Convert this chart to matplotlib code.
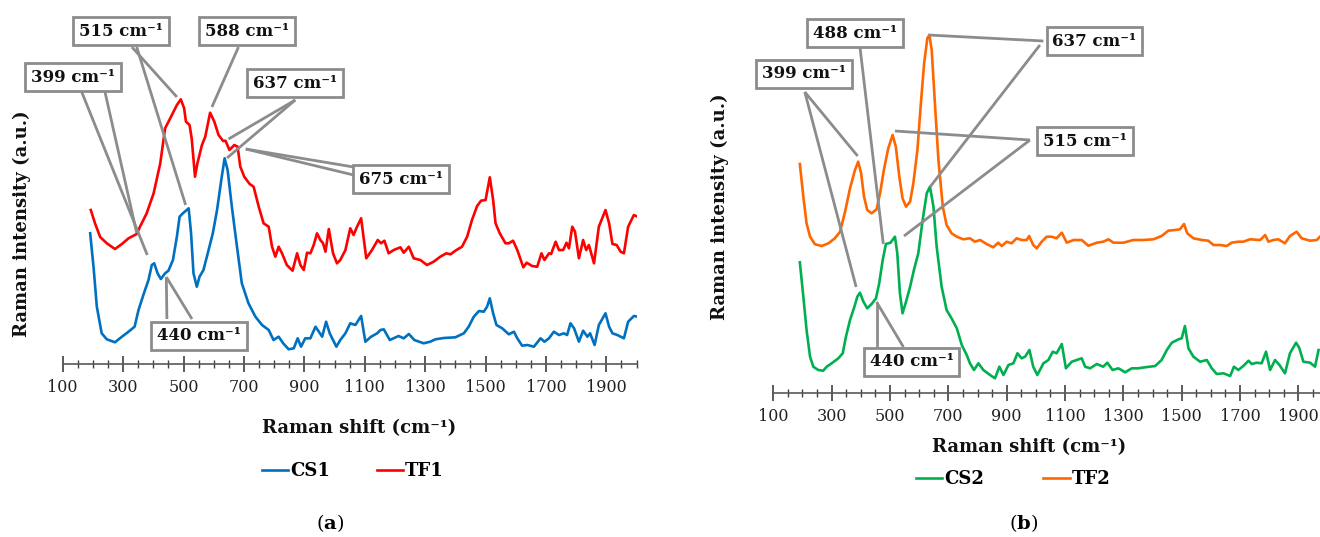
import numpy as np
import matplotlib
matplotlib.use('Agg')
from matplotlib import pyplot as plt

plt.rcParams['font.family'] = ['DejaVu Serif', 'DejaVu Sans']
plt.rcParams['mathtext.fontset'] = 'dejavuserif'

# ---- data (arbitrary intensity units) ----
# panel (a)
cs1_x = [191, 202, 213, 229, 246, 273, 296, 318, 338, 351, 367, 384, 395, 403, 414, 425, 439, 450,
         465, 478, 487, 498, 517, 525, 533, 544, 553, 566, 583, 597, 611, 625, 636, 646, 660, 677,
         693, 715, 738, 760, 782, 798, 815, 830, 848, 865, 878, 889, 903, 920, 937, 948, 959, 972,
         984, 1006, 1019, 1036, 1052, 1069, 1088, 1102, 1121, 1141, 1152, 1163, 1183, 1212, 1229,
         1246, 1264, 1295, 1317, 1334, 1362, 1400, 1428, 1444, 1461, 1478, 1494, 1505, 1514, 1525,
         1536, 1555, 1577, 1594, 1605, 1621, 1638, 1660, 1682, 1695, 1710, 1726, 1743, 1759, 1770,
         1781, 1793, 1809, 1823, 1837, 1846, 1861, 1875, 1897, 1909, 1920, 1936, 1958, 1972, 1991, 2003]
cs1_y = [130.7, 97.3, 57.3, 30.7, 24.7, 21.7, 27.3, 32.3, 37.3, 54, 69, 84, 99, 100.7, 90.7, 85, 90.7,
         93.3, 104, 127.3, 147.3, 150.7, 155.7, 130.7, 90.7, 77.3, 87.3, 94, 114, 130.7, 154, 184,
         205.7, 194, 157.3, 117.3, 80.7, 60.7, 47.3, 39, 34, 24, 27.3, 20.7, 14.7, 15.7, 25.7, 17.3,
         25.7, 25.7, 37.3, 32.3, 27.3, 42.3, 30.7, 17.3, 24, 30.7, 40.7, 39, 48, 22.3, 27.3, 30.7, 34,
         34.7, 24, 28, 25.7, 30, 24, 20.7, 22.3, 24.7, 26, 26.7, 30.7, 37.3, 47.3, 53, 52.3, 57.3,
         65.7, 50.7, 39, 35.7, 29.7, 32.3, 25.7, 18.3, 19, 17.3, 25.7, 22.3, 25.7, 32.3, 29, 30.7, 29,
         40.7, 35.7, 22.3, 33.3, 27.3, 30.7, 19, 39, 50.7, 37.3, 30.7, 29, 25.7, 42.3, 48, 47.3]

tf1_x = [193, 207, 224, 246, 273, 296, 318, 345, 356, 378, 401, 423, 439, 456, 478, 491, 502, 508,
         520, 527, 538, 546, 561, 572, 588, 602, 616, 631, 639, 652, 668, 679, 688, 701, 719, 732,
         749, 765, 782, 793, 804, 815, 826, 842, 861, 876, 887, 898, 909, 920, 931, 942, 953, 962,
         970, 981, 995, 1008, 1019, 1036, 1052, 1063, 1074, 1088, 1105, 1124, 1143, 1154, 1165, 1179,
         1196, 1218, 1229, 1246, 1262, 1284, 1306, 1328, 1350, 1370, 1384, 1400, 1422, 1439, 1455,
         1472, 1485, 1500, 1514, 1525, 1533, 1547, 1566, 1577, 1591, 1605, 1625, 1636, 1654, 1671,
         1685, 1695, 1710, 1717, 1732, 1743, 1757, 1768, 1776, 1787, 1796, 1809, 1823, 1833, 1842,
         1859, 1875, 1897, 1909, 1920, 1934, 1947, 1958, 1972, 1991, 2003]
tf1_y = [154, 140.7, 127, 120.7, 115, 120, 125.7, 130, 137.3, 150.7, 170.7, 200.7, 235.7, 245.7, 259,
         264.7, 255.7, 242.3, 239, 225.7, 187.3, 200.7, 219, 227.3, 251.3, 242.3, 229, 223, 223.3, 214,
         219, 217.3, 197.3, 187.3, 180, 177.3, 157.3, 140.7, 137.3, 117.3, 107.3, 117.3, 110.7, 99,
         93.3, 110.7, 99, 94, 111.3, 110.7, 119, 130.7, 124, 120.7, 112.3, 135, 110.7, 100.7, 104,
         114, 135.7, 129, 137, 145.7, 105.7, 114, 124, 120.7, 123.3, 110.7, 114, 116.7, 111.3, 117.3,
         105.7, 104, 99, 102.3, 107.3, 110.7, 109.7, 113.3, 117.3, 127.3, 144, 158, 163.3, 164, 186.7,
         164, 140.7, 130.7, 120.7, 120.7, 123.3, 114, 96.7, 101.3, 98, 97.3, 110.7, 104, 110.7, 110,
         122.3, 114, 114, 121.3, 115.7, 137.3, 132.3, 105.7, 124, 114, 119, 100.7, 137.3, 154, 140.7,
         120, 119, 112.3, 110.7, 137.3, 149, 147.3]

# panel (b)
cs2_x = [191, 203, 214, 226, 237, 254, 271, 283, 300, 323, 338, 349, 363, 378, 388, 397, 409, 422,
         437, 452, 463, 475, 486, 502, 517, 525, 534, 543, 555, 569, 582, 597, 612, 626, 637, 649,
         660, 677, 694, 711, 729, 746, 763, 774, 788, 803, 820, 843, 860, 875, 889, 906, 923, 937,
         951, 963, 978, 991, 1005, 1026, 1043, 1058, 1071, 1089, 1103, 1123, 1140, 1157, 1169, 1186,
         1209, 1231, 1245, 1263, 1283, 1306, 1329, 1351, 1374, 1409, 1431, 1449, 1466, 1489, 1500,
         1511, 1523, 1540, 1563, 1586, 1603, 1620, 1643, 1666, 1679, 1694, 1711, 1729, 1740, 1757,
         1774, 1789, 1803, 1820, 1835, 1854, 1871, 1892, 1903, 1917, 1940, 1957, 1969]
cs2_y = [130.7, 96.3, 63, 36.3, 26.3, 23, 22.3, 26.3, 29.7, 34.7, 39.7, 56.3, 73, 86.3, 96.3, 100.3,
         91.3, 84.7, 89, 94.7, 109.7, 133, 149, 150.3, 156.3, 139.7, 99.7, 79.7, 91.3, 106.3, 123,
         139.7, 173, 199.7, 206.3, 186.3, 146.3, 106.3, 83, 74.7, 64.7, 48, 38, 29.7, 23, 29.7, 23,
         18, 14.7, 26.3, 18, 28, 29.7, 39.7, 34.7, 36.3, 43, 26.3, 18, 29.7, 33, 41.3, 39.7, 49, 24.7,
         31.3, 33, 34.7, 26.3, 24.7, 29, 26.3, 30.3, 23, 24.7, 20.7, 24.7, 24.7, 25.7, 27, 33, 43,
         50.3, 53.7, 54.7, 67, 44.7, 36.3, 31.3, 33, 24.7, 19, 19.7, 17, 26.3, 23, 27, 32.3, 29, 30.3,
         29.7, 41.3, 23, 33, 28, 19.7, 39.7, 50.3, 45, 31.3, 30.3, 26.3, 43]

tf2_x = [191, 203, 214, 226, 243, 266, 289, 311, 329, 346, 363, 380, 391, 401, 411, 422, 437, 454,
         466, 479, 494, 509, 520, 532, 543, 555, 569, 580, 594, 605, 617, 628, 635, 643, 654, 666,
         681, 694, 711, 729, 751, 774, 791, 809, 831, 854, 871, 883, 900, 917, 934, 951, 969, 977,
         991, 1003, 1020, 1037, 1054, 1071, 1089, 1106, 1129, 1157, 1180, 1209, 1231, 1249, 1266,
         1300, 1334, 1369, 1403, 1431, 1454, 1477, 1494, 1508, 1519, 1540, 1569, 1591, 1609, 1631,
         1654, 1671, 1694, 1711, 1734, 1769, 1786, 1797, 1814, 1831, 1854, 1871, 1894, 1911, 1940,
         1963, 1974]
tf2_y = [229, 196.3, 169.7, 156.3, 148.7, 147, 149.7, 154.7, 161.3, 181.3, 204.7, 223, 231.3, 219.7,
         196.3, 183, 179.7, 183.7, 199.7, 223, 244.7, 258, 246.3, 216.3, 194.7, 186.3, 191.3, 209.7,
         243, 286.3, 329.7, 354.7, 358, 343, 289.7, 233, 186.3, 168, 159.7, 156.3, 153.7, 154.7,
         151.3, 153, 149, 145.7, 150.3, 147, 151.3, 149.7, 154.7, 153, 153, 157, 148, 144.7, 151.3,
         156.3, 156.3, 154.7, 160.3, 150.3, 153, 153, 147.3, 150.3, 151.3, 153.7, 150.3, 150.3, 153,
         153, 153.7, 157, 162.3, 163, 163.7, 169, 159.7, 154.7, 153, 152.3, 148, 148, 147, 150.3,
         151.3, 151.3, 153.7, 153, 158, 151.3, 153, 153.7, 149.7, 157, 161.3, 154.7, 152.3, 153, 156.3]

# callouts: label, box centre, leader lines (start, end) in data units
notes_a = [
    ('399 cm⁻¹', (134, 287), [((163, 272), (380, 109)), ((240, 272), (345, 131))]),
    ('515 cm⁻¹', (293, 333), [((329, 317), (478, 267)), ((345, 317), (507, 159))]),
    ('588 cm⁻¹', (711, 333), [((682, 317), (594, 257))]),
    ('637 cm⁻¹', (870, 281), [((870, 264), (649, 225)), ((870, 264), (644, 206))]),
    ('675 cm⁻¹', (1220, 185), [((1063, 197), (706, 215)), ((1063, 189), (706, 215))]),
    ('440 cm⁻¹', (552, 28), [((445, 45), (443, 87)), ((528, 45), (443, 87))]),
]
notes_b = [
    ('399 cm⁻¹', (205, 319), [((208, 301), (389, 237)), ((208, 301), (384, 106))]),
    ('488 cm⁻¹', (380, 360), [((397, 346), (477, 149))]),
    ('637 cm⁻¹', (1201, 352), [((1026, 352), (631, 358)), ((1014, 348), (637, 206))]),
    ('515 cm⁻¹', (1169, 252), [((980, 253), (517, 262)), ((980, 253), (548, 157))]),
    ('440 cm⁻¹', (574, 31), [((454, 46), (454, 91)), ((546, 46), (454, 91))]),
]

W, H = 1320, 537
fig = plt.figure(figsize=(W / 100, H / 100), dpi=100)

def setup(ax, xmax, ymax, majors):
    ax.set_xlim(100, xmax)
    ax.set_ylim(0, ymax)
    for s in ['top', 'right', 'left']:
        ax.spines[s].set_visible(False)
    ax.spines['bottom'].set_color('#595959')
    ax.spines['bottom'].set_linewidth(1.2)
    ax.set_yticks([])
    ax.set_xticks(majors)
    ax.set_xticks(np.arange(100, xmax + 1, 50), minor=True)
    ax.tick_params(axis='x', which='major', direction='inout', length=11, width=1.2,
                   color='#404040', labelsize=11.5, pad=5, labelcolor='#222222')
    ax.tick_params(axis='x', which='minor', direction='inout', length=6, width=1.0, color='#404040')
    ax.patch.set_alpha(0)

def callouts(ax, notes):
    for label, (bx, by), lines in notes:
        for (x0, y0), (x1, y1) in lines:
            ax.plot([x0, x1], [y0, y1], color='#8c8c8c', lw=2, zorder=3, clip_on=False,
                    solid_capstyle='butt')
        ax.text(bx, by, label, ha='center', va='center', fontsize=12, fontweight='bold',
                color='#111111', zorder=5,
                bbox=dict(boxstyle='square,pad=0.35', fc='white', ec='#8c8c8c', lw=2))

# (a)
axA = fig.add_axes([62.7 / W, 173 / H, 573.9 / W, 364 / H])
setup(axA, 2000, 364, np.arange(100, 2001, 200))
axA.plot(cs1_x, cs1_y, color='#0070C0', lw=1.9, label='CS1', zorder=2)
axA.plot(tf1_x, tf1_y, color='#FF0000', lw=1.9, label='TF1', zorder=2)
callouts(axA, notes_a)
axA.legend(loc='center', bbox_to_anchor=(353 / W, 1 - 471 / H), bbox_transform=fig.transFigure,
           ncol=2, frameon=False, handlelength=1.45, handletextpad=0.1, columnspacing=2.6,
           prop={'weight': 'bold', 'size': 13})

# (b)
axB = fig.add_axes([773.3 / W, 144 / H, 546.7 / W, 393 / H])
setup(axB, 1974, 393, np.arange(100, 1901, 200))
axB.plot(cs2_x, cs2_y, color='#00B050', lw=1.9, label='CS2', zorder=2)
axB.plot(tf2_x, tf2_y, color='#FF6600', lw=1.9, label='TF2', zorder=2)
callouts(axB, notes_b)
axB.legend(loc='center', bbox_to_anchor=(1013 / W, 1 - 479 / H), bbox_transform=fig.transFigure,
           ncol=2, frameon=False, handlelength=1.45, handletextpad=0.1, columnspacing=3.3,
           prop={'weight': 'bold', 'size': 13})

# axis titles and panel tags
lab = dict(ha='center', va='center', fontsize=13, fontweight='bold', color='#111111')
fig.text(359 / W, 1 - 428 / H, 'Raman shift (cm⁻¹)', **lab)
fig.text(1029 / W, 1 - 447 / H, 'Raman shift (cm⁻¹)', **lab)
fig.text(22 / W, 1 - 224 / H, 'Raman intensity (a.u.)', rotation=90, **lab)
fig.text(720 / W, 1 - 207 / H, 'Raman intensity (a.u.)', rotation=90, **lab)
fig.text(330 / W, 1 - 523 / H, r'($\mathbf{a}$)', ha='center', va='center', fontsize=14)
fig.text(1024 / W, 1 - 523 / H, r'($\mathbf{b}$)', ha='center', va='center', fontsize=14)

fig.savefig('out.png', dpi=100)
